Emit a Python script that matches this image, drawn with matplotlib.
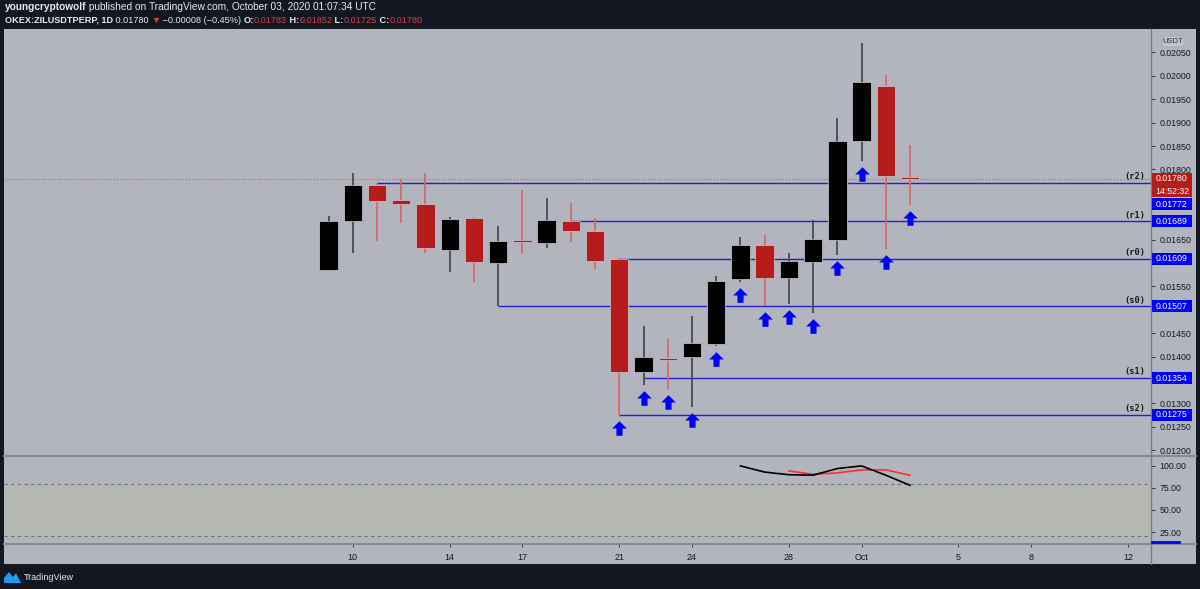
import matplotlib
matplotlib.use("Agg")
import numpy as np
import pandas as pd
import matplotlib.pyplot as plt
import matplotlib.dates as mdates
from matplotlib.path import Path
from matplotlib.patches import Rectangle, FancyBboxPatch, Polygon
from matplotlib.lines import Line2D
from matplotlib.transforms import ScaledTranslation

# ---- data ----
dates = pd.date_range("2020-09-09", "2020-10-03", freq="D")
opens = [0.01585, 0.01689, 0.01767, 0.01735, 0.01726, 0.01627, 0.01696, 0.01599, 0.01648,
         0.01643, 0.01689, 0.01669, 0.01609, 0.01366, 0.01396, 0.01398, 0.01426, 0.01565,
         0.01639, 0.01567, 0.01602, 0.01649, 0.01861, 0.01979, 0.01783]
highs = [0.01701, 0.01793, 0.01772, 0.01779, 0.01793, 0.01699, 0.01699, 0.01679, 0.01755,
         0.01738, 0.01728, 0.01697, 0.01611, 0.01465, 0.01437, 0.01487, 0.01572, 0.01656,
         0.01659, 0.01621, 0.01692, 0.01910, 0.02070, 0.02001, 0.01852]
lows = [0.01584, 0.01621, 0.01648, 0.01685, 0.01621, 0.01580, 0.01559, 0.01507, 0.01619,
        0.01633, 0.01644, 0.01587, 0.01275, 0.01339, 0.01331, 0.01293, 0.01423, 0.01560,
        0.01508, 0.01512, 0.01494, 0.01616, 0.01817, 0.01630, 0.01725]
closes = [0.01689, 0.01767, 0.01733, 0.01726, 0.01633, 0.01694, 0.01602, 0.01647, 0.01646,
          0.01691, 0.01668, 0.01604, 0.01366, 0.01398, 0.01394, 0.01428, 0.01562, 0.01639,
          0.01567, 0.01604, 0.01651, 0.01860, 0.01987, 0.01787, 0.01780]

level_names = ["(r2)", "(r1)", "(r0)", "(s0)", "(s1)", "(s2)"]
level_values = [0.01772, 0.01689, 0.01609, 0.01507, 0.01354, 0.01275]
level_starts = ["2020-09-11", "2020-09-19", "2020-09-21", "2020-09-16", "2020-09-22", "2020-09-21"]

arrow_from = "2020-09-21"

k_dates = pd.date_range("2020-09-26", "2020-10-03", freq="D")
k_values = [100, 93, 90, 89.5, 97, 100, 89.5, 78]
d_dates = pd.date_range("2020-09-28", "2020-10-03", freq="D")
d_values = [94.3, 90.5, 92, 95.5, 95.5, 89.4]

tick_dates = ["2020-09-10", "2020-09-14", "2020-09-17", "2020-09-21", "2020-09-24",
              "2020-09-28", "2020-10-01", "2020-10-05", "2020-10-08", "2020-10-12"]
tick_labels = ["10", "14", "17", "21", "24", "28", "Oct", "5", "8", "12"]

price_ticks = np.arange(0.01200, 0.020501, 0.0005)
osc_ticks = [25, 50, 75, 100]

last_time = "14:52:32"

# ---- style ----
W, H = 1200, 589
BG = "#b2b5be"
DARK = "#131722"
RED = "#b71c1c"
BLUE = "#0000ff"
LEVEL = "#1f1fd6"
FONT = ["Liberation Sans", "DejaVu Sans"]

fig = plt.figure(figsize=(12, 5.89), dpi=100)
fig.patch.set_facecolor(DARK)


def fx(x):
    return x / W


def fy(y):
    return 1 - y / H


# gray chart card
fig.add_artist(Rectangle((fx(4), fy(563.5)), fx(1192), (563.5 - 29.3) / H,
                         transform=fig.transFigure, facecolor=BG, edgecolor="none", zorder=0))

ax = fig.add_axes([fx(4), fy(456), fx(1147), (456 - 29.3) / H])
ax2 = fig.add_axes([fx(4), fy(543.3), fx(1147), (543.3 - 457) / H])

x = mdates.date2num(dates)
base = mdates.date2num(pd.Timestamp("2020-09-10"))
for a in (ax, ax2):
    a.set_facecolor(BG)
    a.set_xlim(base - 14.40, base + 32.95)
    for s in a.spines.values():
        s.set_visible(False)

ax.set_ylim(0.011873, 0.020996)
ax2.set_ylim(12.2, 110.1)

# ---- candles ----
o = np.array(opens)
c = np.array(closes)
up = c >= o
min_h = 0.00004
body_lo = np.minimum(o, c)
body_h = np.abs(c - o)
small = body_h < min_h
body_lo = np.where(small, (o + c) / 2 - min_h / 2, body_lo)
body_h = np.where(small, min_h, body_h)

wick_cols = np.where(up, "#4a4a4e", "#d46a6a")
ax.vlines(x, lows, highs, colors=wick_cols, lw=1.3, zorder=2)
ax.bar(x, body_h, bottom=body_lo, width=0.76, color=np.where(up, "#000000", RED),
       edgecolor="#c9cbd1", linewidth=0.5, zorder=3)

# current price dotted line
ax.axhline(closes[-1], color="#d46a6a", lw=0.9, ls=(0, (1, 1.5)), zorder=1)

# ---- levels ----
for name, val, st in zip(level_names, level_values, level_starts):
    ax.hlines(val, mdates.date2num(pd.Timestamp(st)), ax.get_xlim()[1], color=LEVEL, lw=1.0, zorder=1)
    ax.annotate(name, xy=(1, val), xycoords=("axes fraction", "data"), xytext=(-4, 4.5),
                textcoords="offset points", ha="right", va="center", fontsize=6.3,
                family="DejaVu Sans Mono", fontweight="bold", color="#1a1a1a")

# ---- arrows under bars ----
arrow = Path([(-1, 0), (0, 1), (1, 0), (0.42, 0), (0.42, -1), (-0.42, -1), (-0.42, 0), (-1, 0)],
             [Path.MOVETO] + [Path.LINETO] * 6 + [Path.CLOSEPOLY])
sel = dates >= pd.Timestamp(arrow_from)
shift = ax.transData + ScaledTranslation(0, -0.13, fig.dpi_scale_trans)
ax.plot(x[sel], np.array(lows)[sel], ls="none", marker=arrow, ms=10.5, color=BLUE,
        markeredgewidth=0, transform=shift, zorder=4)

# ---- oscillator pane ----
ax2.axhspan(20, 80, color="#b5b7b3", zorder=0)
for lv in (80, 20):
    ax2.axhline(lv, color="#6e717a", lw=0.8, ls=(0, (3, 3)), zorder=1)
ax2.plot(mdates.date2num(k_dates), k_values, color="#000000", lw=1.2, zorder=3)
ax2.plot(mdates.date2num(d_dates), d_values, color="#ff2d2d", lw=1.2, zorder=2)
ax2.yaxis.tick_right()
ax2.set_yticks(osc_ticks)
ax2.set_yticklabels([f"{v:.2f}" for v in osc_ticks])
ax2.tick_params(axis="y", direction="out", length=3, width=0.7, color="#333640", pad=3,
                labelsize=6.3, labelcolor=DARK, labelfontfamily="Liberation Sans")
ax2.set_xticks(mdates.date2num(pd.to_datetime(tick_dates)))
ax2.set_xticklabels(tick_labels)
ax2.tick_params(axis="x", direction="out", length=3, width=0.7, color="#333640", pad=4,
                labelsize=6.5, labelcolor=DARK, labelfontfamily="Liberation Sans")

# ---- frame lines ----
fig.add_artist(Line2D([fx(4), fx(1196)], [fy(456.2)] * 2, color="#878a93", lw=1.5, zorder=2))
fig.add_artist(Line2D([fx(4), fx(1196)], [fy(543.6)] * 2, color="#878a93", lw=1.5, zorder=2))
fig.add_artist(Line2D([fx(1151)] * 2, [fy(29.3), fy(563.5)], color="#787b86", lw=1.0, zorder=2))
fig.add_artist(Line2D([fx(1152), fx(1179)], [fy(542.2)] * 2, color=BLUE, lw=2, zorder=3))

# ---- price axis labels (boxes) ----
fig.canvas.draw()


def to_px(val):
    return ax.transData.transform((x[0], val))[1]


bh = 12.0
boxes = [(to_px(closes[-1]), f"{closes[-1]:.5f}", RED),
         (to_px(closes[-1]) - bh - 0.5, last_time, RED)]
for val in level_values:
    yv = to_px(val)
    prev_bottom = boxes[-1][0] - bh / 2
    if yv + bh / 2 > prev_bottom - 1:
        yv = prev_bottom - 1 - bh / 2
    boxes.append((yv, f"{val:.5f}", BLUE))

for yc, txt, col in boxes:
    fig.add_artist(Rectangle((fx(1151.5), (yc - bh / 2) / H), 40.5 / W, bh / H,
                             transform=fig.transFigure, facecolor=col, edgecolor="none", zorder=5))
    fig.text(fx(1172), yc / H, txt, ha="center", va="center", color="white",
             fontsize=6.3, family=FONT, zorder=6)

# price scale: ticks whose labels sit under a box are left without text
box_y = [b[0] for b in boxes]
tick_txt = []
for v in price_ticks:
    hidden = any(abs(to_px(v) - by) < 9 for by in box_y)
    tick_txt.append("" if hidden else f"{v:.5f}")
ax.yaxis.tick_right()
ax.set_yticks(price_ticks)
ax.set_yticklabels(tick_txt)
ax.tick_params(axis="y", direction="out", length=3, width=0.7, color="#333640", pad=3,
               labelsize=6.3, labelcolor=DARK, labelfontfamily="Liberation Sans")
ax.tick_params(axis="x", bottom=False, labelbottom=False)

# USDT tag
fig.add_artist(FancyBboxPatch((fx(1162), fy(47)), 22 / W, 11 / H,
                              boxstyle="round,pad=0,rounding_size=0.003",
                              transform=fig.transFigure, facecolor="#c2c4ca",
                              edgecolor="#a5a8b0", lw=0.6, zorder=5))
fig.text(fx(1173), fy(41.5), "USDT", ha="center", va="center", fontsize=5.5,
         color="#2a2e39", family=FONT, zorder=6)

# ---- header ----
renderer = fig.canvas.get_renderer()


def put_runs(x_px, y_px, runs, size):
    xx = x_px
    for txt, col, wt in runs:
        t = fig.text(fx(xx), fy(y_px), txt, color=col, fontsize=size, fontweight=wt,
                     ha="left", va="center", family=FONT)
        xx += t.get_window_extent(renderer=renderer).width
    return xx


WHITE = "#e8e9ec"
HRED = "#e0403f"
line1 = [("youngcryptowolf", WHITE, "bold"),
         (" published on TradingView.com, October 03, 2020 01:07:34 UTC", WHITE, "normal")]
line2 = [("OKEX:ZILUSDTPERP, 1D", WHITE, "bold"), (" 0.01780 ", WHITE, "normal"),
         ("▼", HRED, "normal"), (" −0.00008 (−0.45%) ", WHITE, "normal"),
         ("O:", WHITE, "bold"), ("0.01783", HRED, "normal"),
         (" H:", WHITE, "bold"), ("0.01852", HRED, "normal"),
         (" L:", WHITE, "bold"), ("0.01725", HRED, "normal"),
         (" C:", WHITE, "bold"), ("0.01780", HRED, "normal")]
put_runs(5, 7.5, line1, 7.3)
put_runs(5, 20.5, line2, 6.6)

# ---- TradingView mark ----
fig.add_artist(Polygon([(fx(4), fy(583)), (fx(4), fy(578)), (fx(9), fy(572)), (fx(13), fy(577)),
                        (fx(16), fy(573)), (fx(21), fy(583))], closed=True,
                       transform=fig.transFigure, facecolor="#2196f3", edgecolor="none"))
fig.text(fx(24), fy(577.5), "TradingView", color=WHITE, fontsize=6.5, ha="left", va="center",
         family=FONT)

plt.savefig("out.png", dpi=100, facecolor=fig.get_facecolor())
plt.close()
